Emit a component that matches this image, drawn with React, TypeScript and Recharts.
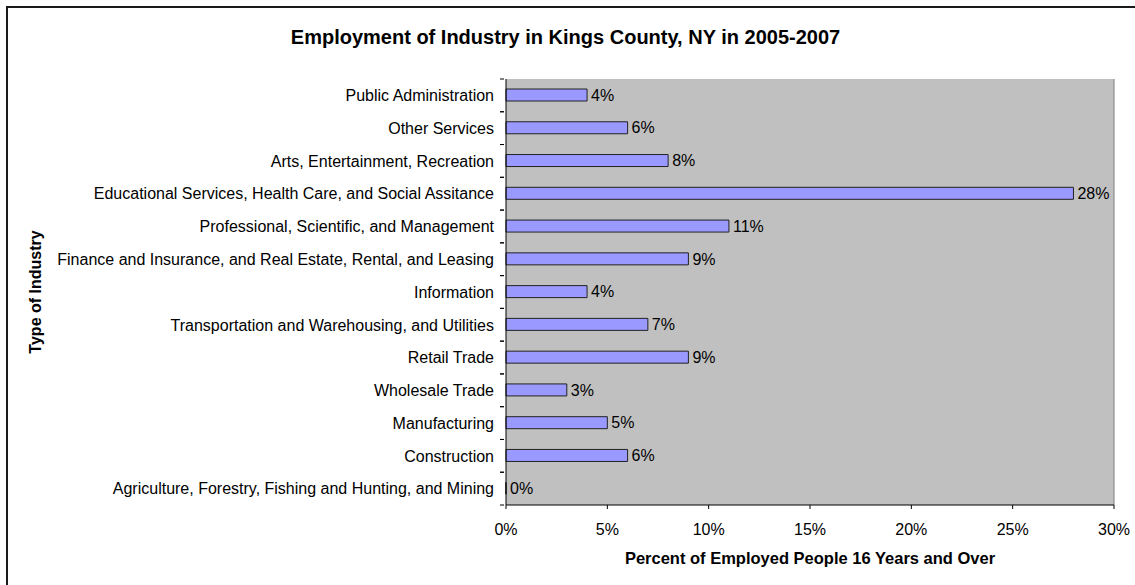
import React from 'react';
import { BarChart, Bar, XAxis, YAxis, CartesianGrid, LabelList, ReferenceLine } from 'recharts';

const industries = [
  'Public Administration',
  'Other Services',
  'Arts, Entertainment, Recreation',
  'Educational Services, Health Care, and Social Assitance',
  'Professional, Scientific, and Management',
  'Finance and Insurance, and Real Estate, Rental, and Leasing',
  'Information',
  'Transportation and Warehousing, and Utilities',
  'Retail Trade',
  'Wholesale Trade',
  'Manufacturing',
  'Construction',
  'Agriculture, Forestry, Fishing and Hunting, and Mining',
];
const percents = [4, 6, 8, 28, 11, 9, 4, 7, 9, 3, 5, 6, 0];
const xTicks = [0, 5, 10, 15, 20, 25, 30];

const data = industries.map((name, i) => ({ name, value: percents[i] }));

const FONT = '"Liberation Sans", Arial, sans-serif';
const BAND = 426 / industries.length;

function CategoryTick(props: any) {
  const { x, y, payload } = props;
  return (
    <g>
      <line x1={x + 2} x2={x + 6} y1={y - BAND / 2} y2={y - BAND / 2} stroke="#000" />
      <line x1={x + 2} x2={x + 6} y1={y + BAND / 2} y2={y + BAND / 2} stroke="#000" />
      <text x={x - 4} y={y} dy="0.36em" textAnchor="end" fontSize={16} fill="#000" fontFamily={FONT}>
        {payload.value}
      </text>
    </g>
  );
}

function YTitle() {
  return (
    <text
      x={41}
      y={292}
      transform="rotate(-90 41 292)"
      textAnchor="middle"
      fontSize={16}
      fontWeight="bold"
      fill="#000"
      fontFamily={FONT}
    >
      Type of Industry
    </text>
  );
}

export default function App() {
  return (
    <div style={{ position: 'fixed', left: 0, top: 0, width: 1135, height: 585, background: '#fff', fontFamily: FONT }}>
      <div
        style={{
          position: 'absolute',
          left: 6,
          top: 6,
          width: 1200,
          height: 700,
          borderLeft: '2px solid #1a1a1a',
          borderTop: '2px solid #1a1a1a',
        }}
      />
      <div
        style={{
          position: 'absolute',
          left: 0,
          width: 1135,
          top: 25,
          textAlign: 'center',
          fontSize: 20,
          fontWeight: 'bold',
          paddingRight: 4,
          boxSizing: 'border-box',
          lineHeight: '24px',
        }}
      >
        Employment of Industry in Kings County, NY in 2005-2007
      </div>
      <div style={{ position: 'absolute', left: 0, top: 0 }}>
        <BarChart
          layout="vertical"
          width={1135}
          height={585}
          data={data}
          margin={{ top: 79, right: 21, bottom: 0, left: 0 }}
          barCategoryGap={0}
        >
          <CartesianGrid fill="#c0c0c0" horizontal={false} vertical={false} />
          <XAxis
            type="number"
            domain={[0, 30]}
            ticks={xTicks}
            tickFormatter={(v) => `${v}%`}
            height={80}
            stroke="#000"
            tickSize={4}
            tickMargin={15}
            tick={{ fill: '#000', fontSize: 16, fontFamily: FONT }}
            label={{
              value: 'Percent of Employed People 16 Years and Over',
              position: 'insideBottom',
              offset: 21,
              fill: '#000',
              fontSize: 16.5,
              fontWeight: 'bold',
              fontFamily: FONT,
            }}
          />
          <YAxis
            type="category"
            dataKey="name"
            width={506}
            stroke="#000"
            tickLine={false}
            tick={<CategoryTick />}
            interval={0}
            label={{ content: <YTitle /> }}
          />
          <ReferenceLine x={30} stroke="#808080" />
          <Bar
            dataKey="value"
            fill="#9999ff"
            stroke="#222"
            strokeWidth={1}
            barSize={12}
            minPointSize={(v: number) => (v === 0 ? 0.01 : 0)}
            isAnimationActive={false}
          >
            <LabelList
              dataKey="value"
              position="right"
              offset={4}
              formatter={(v: any) => `${v}%`}
              style={{ fill: '#000', fontSize: 16, fontFamily: FONT }}
            />
          </Bar>
        </BarChart>
      </div>
    </div>
  );
}
